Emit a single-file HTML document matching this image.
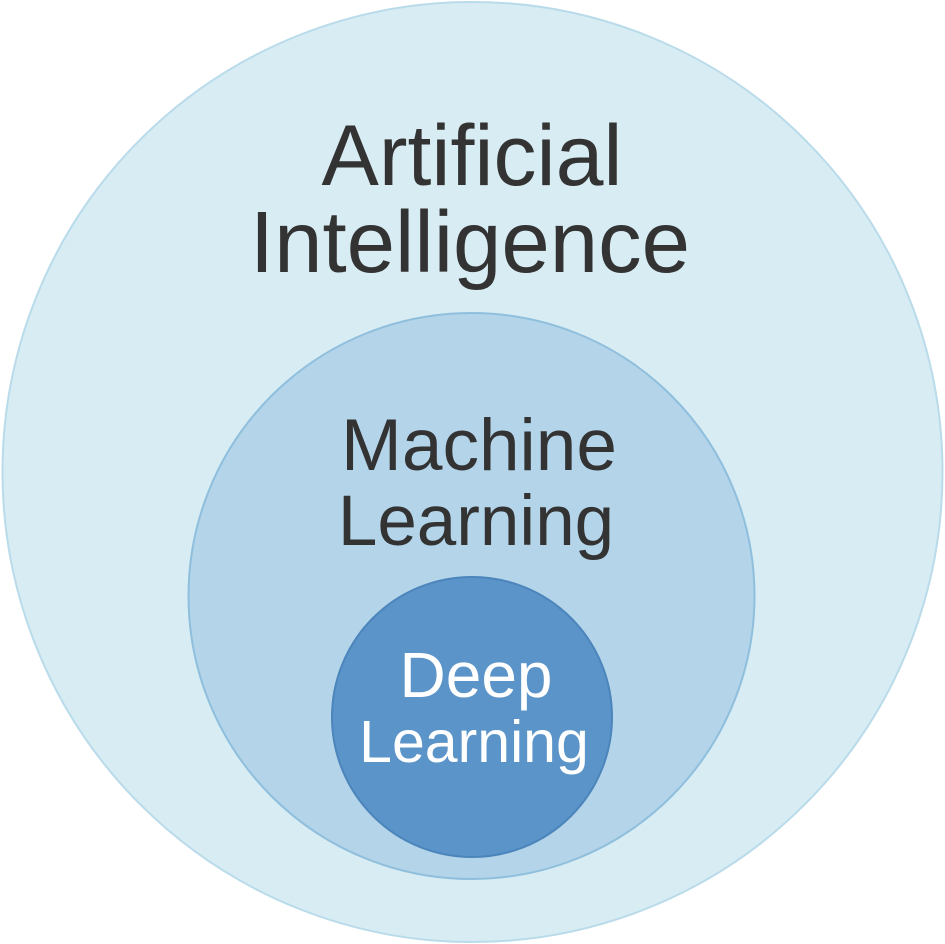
<!DOCTYPE html>
<html><head><style>html,body{margin:0;padding:0;background:#fff}svg{display:block}</style></head>
<body>
<svg width="945" height="944" viewBox="0 0 945 944" xmlns="http://www.w3.org/2000/svg">
<rect width="945" height="944" fill="#ffffff"/>
<circle cx="472.5" cy="472" r="470" fill="#d8ecf3" stroke="#b9dbea" stroke-width="2"/>
<circle cx="471.5" cy="596" r="283" fill="#b3d4e9" stroke="#8fbfdd" stroke-width="2"/>
<circle cx="472" cy="717" r="140" fill="#5a94c8" stroke="#4c85bb" stroke-width="2"/>
<g font-family="Liberation Sans, sans-serif" text-anchor="middle">
<text x="472" y="185" font-size="86" fill="#333">Artificial</text>
<text x="470" y="272" font-size="87" fill="#333">Intelligence</text>
<text x="479" y="470" font-size="73" fill="#333">Machine</text>
<text x="476" y="545" font-size="71" fill="#333">Learning</text>
<text x="476" y="697" font-size="64" fill="#fff">Deep</text>
<text x="474" y="762" font-size="59" fill="#fff">Learning</text>
</g>
</svg>
</body></html>
